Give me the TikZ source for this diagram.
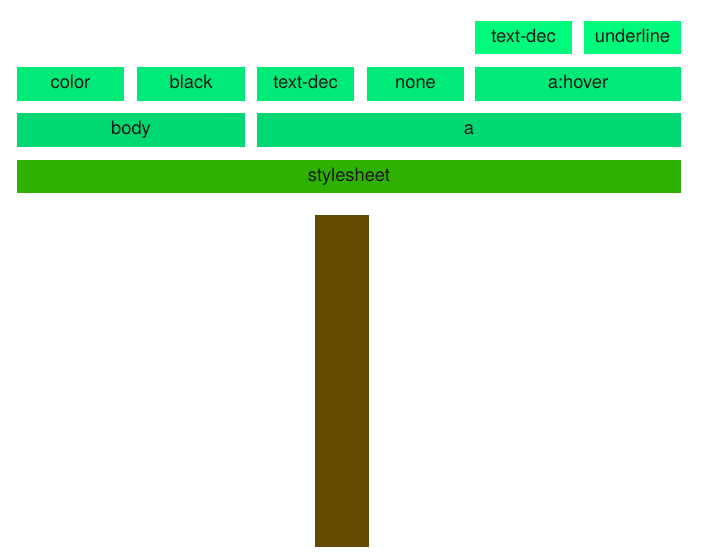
\documentclass[tikz,border=0pt]{standalone}
\usepackage{fontspec}
\setmainfont{TeX Gyre Heros}
\definecolor{leafA}{HTML}{00FB7C}
\definecolor{leafB}{HTML}{00EA78}
\definecolor{leafC}{HTML}{00D973}
\definecolor{stem}{HTML}{2EB100}
\definecolor{trunkc}{HTML}{654B00}
\definecolor{txt}{HTML}{1A1A1A}
\begin{document}
\begin{tikzpicture}[x=1pt,y=-1pt,
  blk/.style={anchor=base,inner sep=0pt,outer sep=0pt,text=txt,
    font=\fontsize{18.3}{21}\selectfont},
]
\useasboundingbox (0,0) rectangle (701,559);
% row 1
\fill[leafA] (475,21) rectangle (572,54);
\node[blk] (td1) at (523.5,42.5) {text-dec};
\fill[leafA] (584,21) rectangle (681,54);
\node[blk] (ul) at (632.5,42.5) {underline};
% row 2
\fill[leafB] (17,67) rectangle (124,101);
\node[blk] (color) at (70.5,89) {color};
\fill[leafB] (137,67) rectangle (245,101);
\node[blk] (black) at (191,89) {black};
\fill[leafB] (257,67) rectangle (354,101);
\node[blk] (td2) at (305.5,89) {text-dec};
\fill[leafB] (367,67) rectangle (464,101);
\node[blk] (none) at (415.5,89) {none};
\fill[leafB] (475,67) rectangle (681,101);
\node[blk] (hover) at (578,89) {a:hover};
% row 3
\fill[leafC] (17,113) rectangle (245,147);
\node[blk] (body) at (131,135) {body};
\fill[leafC] (257,113) rectangle (681,147);
\node[blk] (a) at (469,135) {a};
% row 4
\fill[stem] (17,160) rectangle (681,193);
\node[blk] (ss) at (349,181.5) {stylesheet};
% trunk
\fill[trunkc] (315,215) rectangle (369,547);
\end{tikzpicture}
\end{document}
